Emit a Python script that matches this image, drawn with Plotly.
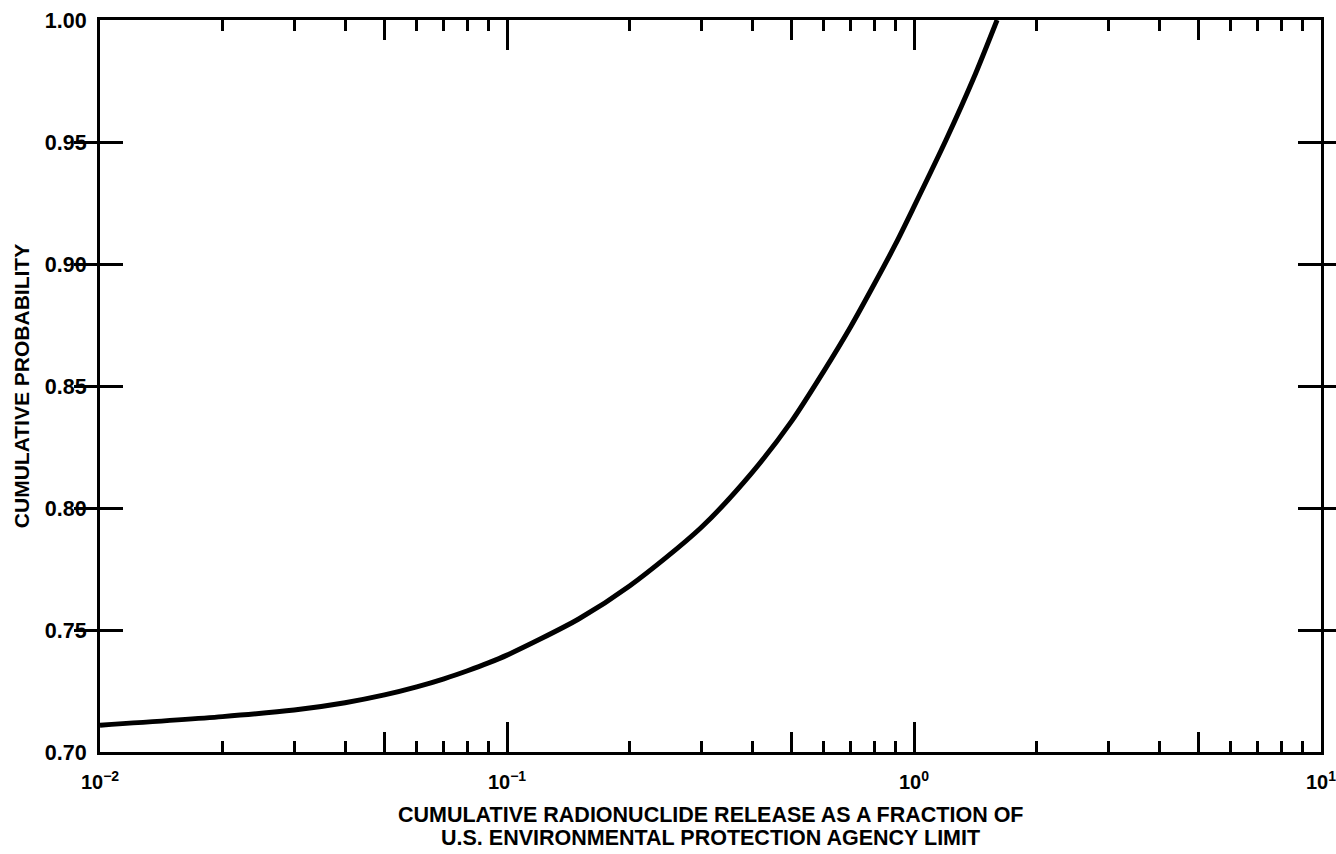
import plotly.graph_objects as go

# Data
release_fraction = [0.01, 0.02, 0.03, 0.04, 0.05, 0.06, 0.07, 0.08, 0.09, 0.10,
                    0.15, 0.20, 0.30, 0.40, 0.50, 0.60, 0.70, 0.80, 0.90, 1.00,
                    1.20, 1.40, 1.60]
cumulative_prob = [0.711, 0.7145, 0.7172, 0.7202, 0.7234, 0.7267, 0.7300, 0.7333, 0.7365, 0.7397,
                   0.7545, 0.7680, 0.7920, 0.8145, 0.8355, 0.8560, 0.8745, 0.8920, 0.9080, 0.9235,
                   0.9510, 0.9760, 1.000]

x_major_vals = [0.01, 0.1, 1, 10]
x_major_text = ["10<sup>−2</sup>", "10<sup>−1</sup>", "10<sup>0</sup>", "10<sup>1</sup>"]
x_mid_vals = [0.05, 0.5, 5]
x_minor_vals = [m * d for d in (0.01, 0.1, 1) for m in (2, 3, 4, 6, 7, 8, 9)]
y_tick_vals = [0.70, 0.75, 0.80, 0.85, 0.90, 0.95, 1.00]

x_title_lines = ["CUMULATIVE RADIONUCLIDE RELEASE AS A FRACTION OF",
                 "U.S. ENVIRONMENTAL PROTECTION AGENCY LIMIT"]
y_title = "CUMULATIVE PROBABILITY"

FONT = "Liberation Sans, Arial, Helvetica, sans-serif"

fig = go.Figure()
fig.add_trace(go.Scatter(
    x=release_fraction, y=cumulative_prob, mode="lines",
    line=dict(color="black", width=5, shape="spline", smoothing=0.8),
    showlegend=False, hoverinfo="skip",
))
# invisible helper trace so the medium (x5) tick axis is drawn
fig.add_trace(go.Scatter(
    x=x_mid_vals, y=[None] * len(x_mid_vals), xaxis="x2", mode="markers",
    marker=dict(opacity=0), showlegend=False, hoverinfo="skip",
))

fig.update_layout(
    width=1336, height=854,
    margin=dict(l=100, r=15, t=20, b=102),
    paper_bgcolor="white", plot_bgcolor="white",
    font=dict(family=FONT, color="black"),
    showlegend=False,
    xaxis=dict(
        type="log", range=[-2.0000001, 1.0000001],
        tickmode="array", tickvals=x_major_vals, ticktext=x_major_text,
        ticks="inside", ticklen=30, tickwidth=2.5, tickcolor="black",
        minor=dict(ticks="inside", ticklen=11, tickwidth=2.5, tickcolor="black",
                   tickmode="array", tickvals=x_minor_vals, showgrid=False),
        showline=True, linewidth=3, linecolor="black", mirror="allticks",
        showgrid=False, zeroline=False,
        tickfont=dict(size=20, family=FONT, weight="bold"),
        ticklabelstandoff=10, ticklabeloverflow="allow",
        automargin=False,
    ),
    xaxis2=dict(
        type="log", range=[-2.0000001, 1.0000001], overlaying="x", anchor="y", side="bottom",
        tickmode="array", tickvals=x_mid_vals, showticklabels=False,
        ticks="inside", ticklen=20, tickwidth=2.5, tickcolor="black",
        showline=False, mirror="ticks", showgrid=False, zeroline=False,
    ),
    yaxis=dict(
        range=[0.70, 1.00],
        tickmode="array", tickvals=y_tick_vals, tickformat=".2f",
        ticks="inside", ticklen=23, tickwidth=2.5, tickcolor="black",
        showline=True, linewidth=3, linecolor="black", mirror="allticks",
        showgrid=False, zeroline=False,
        tickfont=dict(size=21.5, family=FONT, weight="bold"),
        ticklabelstandoff=6,
        title=dict(text=y_title, font=dict(size=21, family=FONT, weight="bold"), standoff=10),
        automargin=False,
    ),
    annotations=[
        dict(text=x_title_lines[0], xref="paper", yref="paper", x=0.5, y=0,
             yshift=-63, showarrow=False, xanchor="center", yanchor="middle",
             font=dict(size=21.5, family=FONT, weight="bold")),
        dict(text=x_title_lines[1], xref="paper", yref="paper", x=0.5, y=0,
             yshift=-86, showarrow=False, xanchor="center", yanchor="middle",
             font=dict(size=21.5, family=FONT, weight="bold")),
    ],
)

fig.write_html("out.html")
